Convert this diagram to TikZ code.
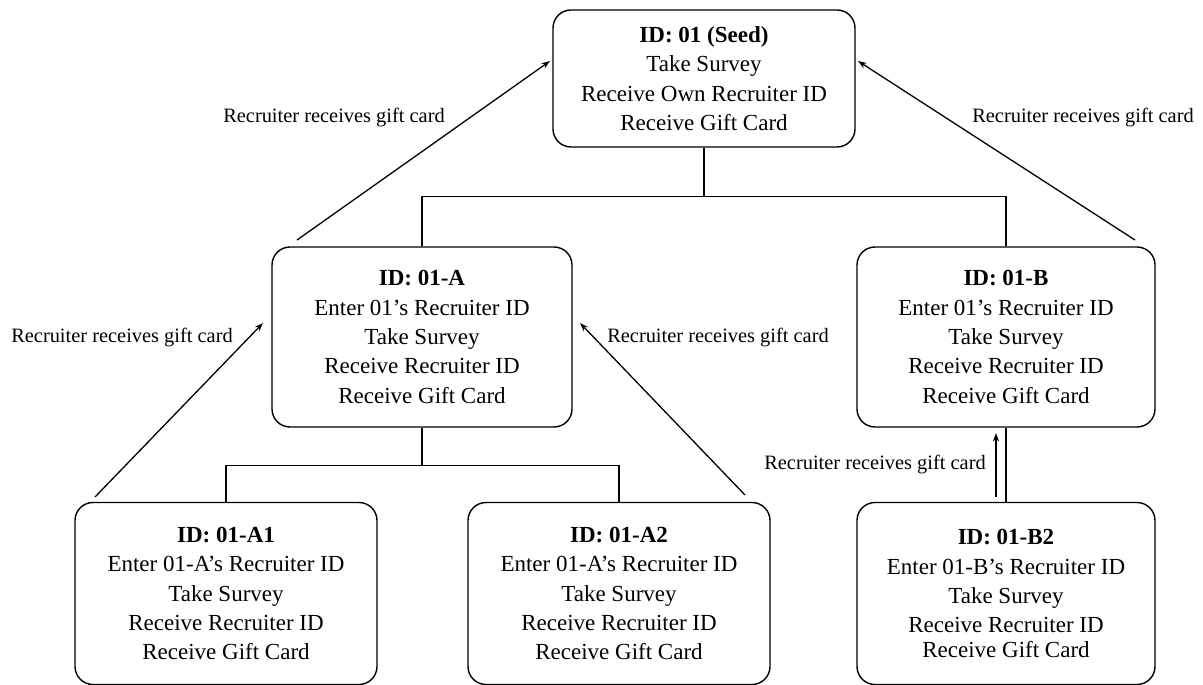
\documentclass[tikz,border=0pt]{standalone}
\usepackage{fontspec}
\setmainfont{Liberation Serif}
\usetikzlibrary{arrows.meta}
\tikzset{
  box/.style={draw, line width=1.4pt, rounded corners=18pt, align=center,
    font=\fontsize{23}{29.3}\selectfont, inner sep=0pt, minimum width=300pt},
  lbl/.style={font=\fontsize{20.4}{24}\selectfont, inner sep=0pt},
  conn/.style={line width=1.4pt},
  arr/.style={line width=1.3pt, -{Stealth[length=8.5pt,width=6pt]}}
}
\begin{document}
\begin{tikzpicture}[x=1pt,y=-1pt]
\useasboundingbox (0,0) rectangle (1203,685);
\node[box, minimum width=302pt, minimum height=137pt] (seed) at (704,78.5)
  {\textbf{ID: 01 (Seed)}\\Take Survey\\Receive Own Recruiter ID\\Receive Gift Card};
\node[box, minimum height=180pt] (A) at (422,337)
  {\textbf{ID: 01-A}\\Enter 01’s Recruiter ID\\Take Survey\\Receive Recruiter ID\\Receive Gift Card};
\node[box, minimum width=298pt, minimum height=180pt] (B) at (1006,337)
  {\textbf{ID: 01-B}\\Enter 01’s Recruiter ID\\Take Survey\\Receive Recruiter ID\\Receive Gift Card};
\node[box, minimum width=302pt, minimum height=182pt] (A1) at (226,593.5)
  {\textbf{ID: 01-A1}\\Enter 01-A’s Recruiter ID\\Take Survey\\Receive Recruiter ID\\Receive Gift Card};
\node[box, minimum width=302pt, minimum height=182pt] (A2) at (619,593.5)
  {\textbf{ID: 01-A2}\\Enter 01-A’s Recruiter ID\\Take Survey\\Receive Recruiter ID\\Receive Gift Card};
\node[box, minimum width=298pt, minimum height=182pt] (B2) at (1006,593.5)
  {\textbf{ID: 01-B2}\\Enter 01-B’s Recruiter ID\\Take Survey\\Receive Recruiter ID\\[-5pt]Receive Gift Card};

% tree connectors
\draw[conn] (seed.south) -- ++(0,49) coordinate (j1);
\draw[conn] (A.north) |- (j1) -| (B.north);
\draw[conn] (A.south) -- ++(0,38) coordinate (j2);
\draw[conn] (A1.north) |- (j2) -| (A2.north);
\draw[conn] (B.south) -- (B2.north);

% gift card arrows
\coordinate (sa) at (297,240);
\coordinate (ta) at (550,61);
\coordinate (sb) at (1135,240);
\coordinate (tb) at (858,61);
\coordinate (sa1) at (95,497);
\coordinate (ta1) at (263,323);
\coordinate (sa2) at (745,495);
\coordinate (ta2) at (580,323);
\coordinate (sb2) at (996,497);
\coordinate (tb2) at (996,433);
\draw[arr] (sa) -- (ta);
\draw[arr] (sb) -- (tb);
\draw[arr] (sa1) -- (ta1);
\draw[arr] (sa2) -- (ta2);
\draw[arr] (sb2) -- (tb2);

\node[lbl] (l1) at (334,118) {Recruiter receives gift card};
\node[lbl] (l2) at (1083,118) {Recruiter receives gift card};
\node[lbl] (l3) at (122,338) {Recruiter receives gift card};
\node[lbl] (l4) at (718,338) {Recruiter receives gift card};
\node[lbl] (l5) at (875,465) {Recruiter receives gift card};
\end{tikzpicture}
\end{document}
